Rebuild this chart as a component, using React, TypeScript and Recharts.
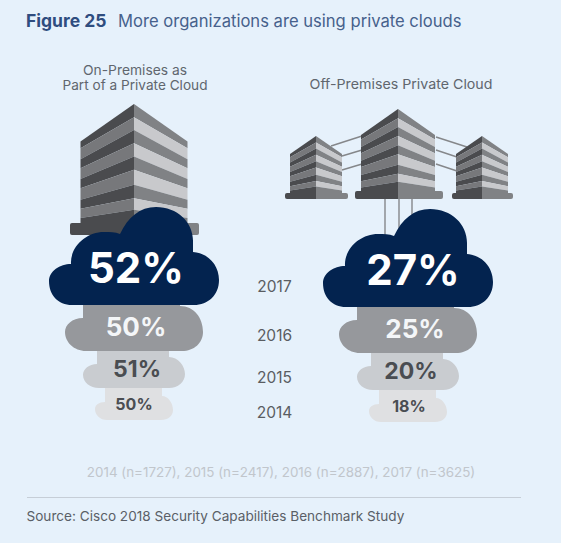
import React from "react";
import { ScatterChart, Scatter, XAxis, YAxis } from "recharts";

const years = [2014, 2015, 2016, 2017];
const sampleSizes = [1727, 2417, 2887, 3625];
const groups = ["On-Premises", "Off-Premises"];
const onPremisesValues = [50, 51, 50, 52];
const offPremisesValues = [18, 20, 25, 27];

const onPremisesData = years.map((year, i) => ({ group: groups[0], year, value: onPremisesValues[i] }));
const offPremisesData = years.map((year, i) => ({ group: groups[1], year, value: offPremisesValues[i] }));

const FONT = "Inter, sans-serif";
const BG = "#e6f1fb";
const DARK = "#4a4b4e";
const MID = "#808285";
const LIGHT = "#c8c9cc";

type CloudStyle = { path: string; bottom: number; fontSize: number; fill: string; text: string; textY: number; weight: number };
const cloudStyles: Record<number, CloudStyle> = {
  2017: {
    path: "M-62 0C-76 0-85-10-85-24C-85-34-74-41-63-41C-64-58-48-73-30-73C-24-73-19-73-14-71C-6-88 6-98 22-98C44-98 60-82 59-62L59-53C74-52 85-40 85-25C85-10 74 0 60 0Z",
    bottom: 19, fontSize: 42, fill: "#03234f", text: "#ffffff", textY: -18, weight: 700,
  },
  2016: {
    path: "M-48 0C-60 0-69-9-69-19C-69-26-62-33-51-33L-51-48L46-48L46-45C60-45 69-33 69-19C69-8 60 0 48 0Z",
    bottom: 23, fontSize: 26, fill: "#96989c", text: "#f4f6f8", textY: -1, weight: 700,
  },
  2015: {
    path: "M-35 0C-44 0-51-6-51-13C-51-19-45-24-37-24L-37-38L35-38L35-31C44-31 51-22 51-14C51-6 44 0 35 0Z",
    bottom: 18, fontSize: 23, fill: "#c9ccd0", text: "#4a4d52", textY: -1, weight: 700,
  },
  2014: {
    path: "M-27 0C-34 0-39-5-39-11C-39-15-35-18-29-18L-29-34L28-34L28-24C34-24 39-17 39-10C39-4 34 0 27 0Z",
    bottom: 8, fontSize: 16, fill: "#dfe0e2", text: "#4a4d52", textY: -8, weight: 700,
  },
};

const yearLabelShift: Record<number, number> = { 2017: 1, 2016: 8, 2015: 8, 2014: 1 };

const makeCloud = (seriesDy: number, textDx: Record<number, number>) => (props: any) => {
  const { cx, cy, payload } = props;
  const s = cloudStyles[payload.year];
  const base = cy + s.bottom + seriesDy;
  return (
    <g>
      <path d={s.path} transform={`translate(${cx} ${base})`} fill={s.fill} />
      <text
        x={cx + textDx[payload.year]}
        y={cy + s.textY + seriesDy + s.fontSize * 0.36}
        textAnchor="middle"
        fontFamily={FONT}
        fontWeight={s.weight}
        fontSize={s.fontSize}
        fill={s.text}
      >
        {payload.value}%
      </text>
    </g>
  );
};

const centerStops = [0, 0.112, 0.218, 0.33, 0.441, 0.553, 0.679, 0.791, 0.888, 1];
const edgeStops = [0.316, 0.372, 0.464, 0.539, 0.631, 0.707, 0.804, 0.88, 0.958, 1];

const Building = ({ cx, top, half, wallBottom, baseLeft, baseRight, baseBottom }: any) => {
  const h = wallBottom - top;
  const band = (i: number, side: number, fill: string) => (
    <polygon
      key={`${side}-${i}`}
      fill={fill}
      points={[
        [cx, top + centerStops[i] * h],
        [cx + side * half, top + edgeStops[i] * h],
        [cx + side * half, top + edgeStops[i + 1] * h],
        [cx, top + centerStops[i + 1] * h],
      ].map((p) => p.join(",")).join(" ")}
    />
  );
  const bands = centerStops.slice(0, -1);
  return (
    <g>
      {bands.map((_, i) => band(i, -1, i % 2 === 0 ? DARK : "#77787b"))}
      {bands.map((_, i) => band(i, 1, i % 2 === 0 ? MID : LIGHT))}
      <path d={`M${baseLeft + 2} ${wallBottom}H${cx}V${baseBottom}H${baseLeft + 2}Q${baseLeft} ${baseBottom} ${baseLeft} ${baseBottom - 2}V${wallBottom + 2}Q${baseLeft} ${wallBottom} ${baseLeft + 2} ${wallBottom}Z`} fill={DARK} />
      <path d={`M${cx} ${wallBottom}H${baseRight - 2}Q${baseRight} ${wallBottom} ${baseRight} ${wallBottom + 2}V${baseBottom - 2}Q${baseRight} ${baseBottom} ${baseRight - 2} ${baseBottom}H${cx}Z`} fill={MID} />
    </g>
  );
};

const connectors = [
  [331, 146, 362, 136], [342, 156, 362, 150], [342, 170, 362, 164],
  [436, 137, 467, 147], [436, 150, 457, 157], [436, 164, 457, 171],
  [385, 199, 385, 236], [399, 199, 399, 236], [412, 199, 412, 236],
];

const Scenery = () => (
  <g>
    {connectors.map((c, i) => (
      <line key={i} x1={c[0]} y1={c[1]} x2={c[2]} y2={c[3]} stroke="#85878a" strokeWidth={1.4} />
    ))}
    <Building cx={134} top={104} half={53.5} wallBottom={223} baseLeft={70} baseRight={199} baseBottom={235} />
    <Building cx={398} top={109} half={37} wallBottom={191} baseLeft={355} baseRight={443} baseBottom={199} />
    <Building cx={316} top={136} half={26} wallBottom={193} baseLeft={285} baseRight={348} baseBottom={199} />
    <Building cx={482} top={136} half={26} wallBottom={193} baseLeft={452} baseRight={513} baseBottom={199} />
    <text x={26} y={27} fontFamily={FONT} fontSize={17.5} fontWeight={700} fill="#2f4d7f">Figure 25</text>
    <text x={118} y={27} fontFamily={FONT} fontSize={16.6} fill="#47618c">More organizations are using private clouds</text>
    <text x={281} y={477} textAnchor="middle" fontFamily={FONT} fontSize={13.4} fill="#c1c6cc">
      {years.map((y, i) => `${y} (n=${sampleSizes[i]})`).join(", ")}
    </text>
    <line x1={27} y1={497.5} x2={521} y2={497.5} stroke="#c6ced7" strokeWidth={1.2} />
    <text x={26.5} y={521} fontFamily={FONT} fontSize={13.6} fill="#5a5f67">Source: Cisco 2018 Security Capabilities Benchmark Study</text>
  </g>
);

const XTick = (props: any) => {
  const { x, payload } = props;
  const common = {
    textAnchor: "middle" as const,
    fontFamily: FONT,
    fontSize: 13.5,
    fontWeight: 400,
    fill: "#60666e",
    lengthAdjust: "spacingAndGlyphs" as const,
  };
  if (payload.value === groups[0]) {
    return (
      <g>
        <text x={x + 1} y={75} textLength={104} {...common}>On-Premises as</text>
        <text x={x + 1} y={90} textLength={145} {...common}>Part of a Private Cloud</text>
      </g>
    );
  }
  return <text x={x - 7} y={89} textLength={183} {...common}>Off-Premises Private Cloud</text>;
};

const YTick = (props: any) => {
  const { x, y, payload } = props;
  return (
    <text x={x + 146.5} y={y + 5 + yearLabelShift[payload.value]} textAnchor="middle" fontFamily={FONT} fontSize={15.5} fontWeight={400} fill="#5a5d62">
      {payload.value}
    </text>
  );
};

const onPremisesTextDx = { 2017: 2, 2016: 2, 2015: 3, 2014: 0 };
const offPremisesTextDx = { 2017: 5, 2016: 7, 2015: 3, 2014: 1 };

export default function App() {
  return (
    <div style={{ position: "absolute", left: 0, top: 0, width: 561, height: 543, background: BG }}>
      <ScatterChart width={561} height={543} margin={{ top: 285, bottom: 131, left: 133, right: 153 }}>
        <Scenery />
        <XAxis
          dataKey="group"
          type="category"
          scale="point"
          orientation="top"
          allowDuplicatedCategory={false}
          ticks={groups}
          height={1}
          axisLine={false}
          tickLine={false}
          interval={0}
          tick={<XTick />}
        />
        <YAxis
          dataKey="year"
          type="number"
          domain={[2014, 2017]}
          ticks={years}
          width={1}
          axisLine={false}
          tickLine={false}
          tickMargin={0}
          interval={0}
          tick={<YTick />}
        />
        <Scatter name="On-Premises" data={onPremisesData} isAnimationActive={false} shape={makeCloud(0, onPremisesTextDx)} />
        <Scatter name="Off-Premises" data={offPremisesData} isAnimationActive={false} shape={makeCloud(2, offPremisesTextDx)} />
      </ScatterChart>
    </div>
  );
}
